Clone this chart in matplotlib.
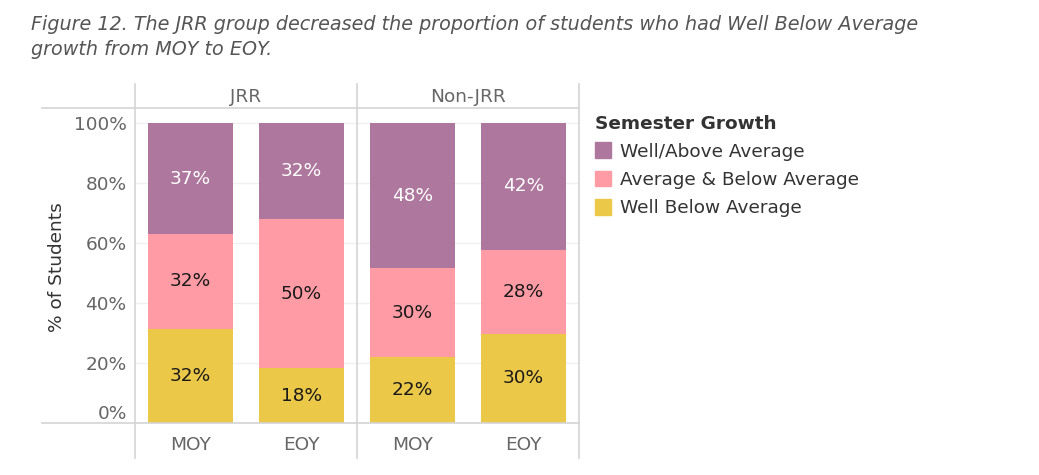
import matplotlib
matplotlib.use("Agg")
import matplotlib.pyplot as plt
from matplotlib.patches import Patch
from matplotlib.lines import Line2D

plt.rcParams['font.family'] = ['DejaVu Sans']

groups = ['JRR', 'Non-JRR']
periods = ['MOY', 'EOY']
categories = ['Well Below Average', 'Average & Below Average', 'Well/Above Average']

# percent of students, bottom to top
well_below = {'JRR': [31.4, 18.2], 'Non-JRR': [21.9, 29.8]}
avg_below = {'JRR': [31.6, 49.9], 'Non-JRR': [29.7, 28.0]}
well_above = {'JRR': [37.0, 31.9], 'Non-JRR': [48.4, 42.2]}

# labels as shown (rounded separately)
label_below = {'JRR': ['32%', '18%'], 'Non-JRR': ['22%', '30%']}
label_avg = {'JRR': ['32%', '50%'], 'Non-JRR': ['30%', '28%']}
label_above = {'JRR': ['37%', '32%'], 'Non-JRR': ['48%', '42%']}

colors = ['#EBC848', '#FF9BA5', '#AE779D']
text_colors = ['#1a1a1a', '#1a1a1a', 'white']

W, H = 1039, 475
fig = plt.figure(figsize=(W / 100, H / 100), dpi=100)

def fx(px):
    return px / W

def fy(py):
    return 1 - py / H

line_c = '#d4d4d4'
panel_left = [135, 357]
panel_w = 222
ax_top, ax_bot = 108, 423
fs = 13.3

for g, left in zip(groups, panel_left):
    ax = fig.add_axes([fx(left), fy(ax_bot), fx(panel_w), (ax_bot - ax_top) / H])
    x = [0, 1]
    series = [well_below[g], avg_below[g], well_above[g]]
    labels = [label_below[g], label_avg[g], label_above[g]]
    bottom = [0, 0]
    for vals, labs, c, tc in zip(series, labels, colors, text_colors):
        ax.bar(x, vals, width=0.76, bottom=bottom, color=c, zorder=2)
        for xi, v, b, lab in zip(x, vals, bottom, labs):
            ax.text(xi, b + v / 2, lab, ha='center', va='center', color=tc, fontsize=fs, zorder=3)
        bottom = [b + v for b, v in zip(bottom, vals)]
    ax.set_xlim(-0.5, 1.5)
    ax.set_ylim(0, 105)
    ax.set_yticks([0, 20, 40, 60, 80, 100])
    ax.yaxis.grid(True, color='#f0f0f0', linewidth=1, zorder=0)
    ax.set_xticks(x)
    ax.set_xticklabels(periods, color='#666666', fontsize=fs)
    ax.tick_params(length=0, pad=9)
    for s in ax.spines.values():
        s.set_visible(False)
    if g == 'JRR':
        ax.set_yticklabels(['0%', '20%', '40%', '60%', '80%', '100%'], color='#666666', fontsize=fs)
        ax.get_yticklabels()[0].set_va('bottom')
        ax.tick_params(axis='y', pad=6)
    else:
        ax.set_yticklabels([])
    fig.text(fx(left + panel_w / 2), fy(97), g, ha='center', va='center', color='#666666', fontsize=fs)

# frame lines (header row, bottom axis, panel dividers)
for xp in [135, 357, 579]:
    fig.add_artist(Line2D([fx(xp), fx(xp)], [fy(84), fy(458)], color=line_c, linewidth=1.2))
fig.add_artist(Line2D([fx(42), fx(579)], [fy(108), fy(108)], color=line_c, linewidth=1.2))
fig.add_artist(Line2D([fx(42), fx(579)], [fy(423), fy(423)], color=line_c, linewidth=1.2))

fig.text(fx(57), fy(267), '% of Students', rotation=90, ha='center', va='center', color='#333333', fontsize=fs)

fig.text(fx(31), fy(37), 'Figure 12. The JRR group decreased the proportion of students who had Well Below Average\ngrowth from MOY to EOY.',
         ha='left', va='center', color='#555555', fontsize=13.75, style='italic', linespacing=1.45)

handles = [Patch(color=c) for c in colors[::-1]]
leg = fig.legend(handles, categories[::-1], loc='upper left', bbox_to_anchor=(fx(578), fy(98)),
                 frameon=False, title='Semester Growth', alignment='left', fontsize=fs,
                 handlelength=0.9, handleheight=0.95, handletextpad=0.45, labelspacing=0.53)
leg.get_title().set_fontsize(fs)
leg.get_title().set_fontweight('bold')
leg.get_title().set_color('#333333')
for t in leg.get_texts():
    t.set_color('#333333')

fig.savefig('out.png', dpi=100)
